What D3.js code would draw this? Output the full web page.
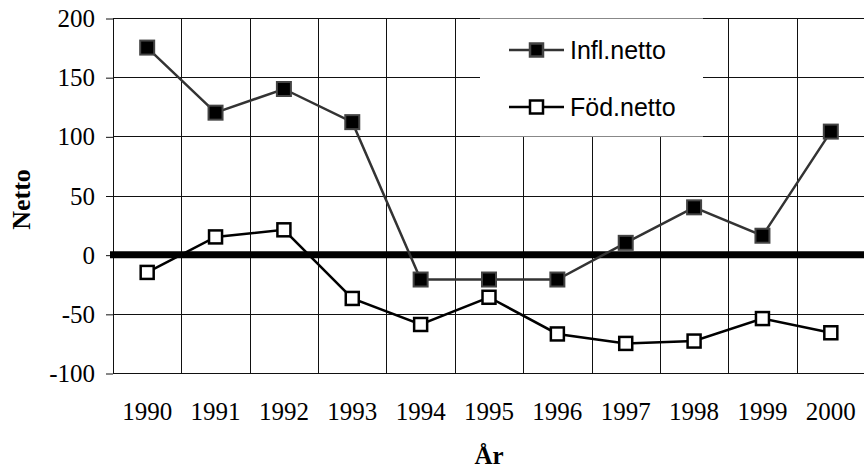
<!DOCTYPE html>
<html>
<head>
<meta charset="utf-8">
<script src="https://cdn.jsdelivr.net/npm/d3@7"></script>
<style>
    body { margin: 0; background: #fff; }
</style>
</head>
<body>
<div id="chart"></div>
<script>
var years = ["1990", "1991", "1992", "1993", "1994", "1995", "1996", "1997", "1998", "1999", "2000"];
var inflNetto = [175, 120, 140, 112, -21, -21, -21, 10, 40, 16, 104];
var fodNetto = [-15, 15, 21, -37, -59, -36, -67, -75, -73, -54, -66];
var yTicks = [-100, -50, 0, 50, 100, 150, 200];

var margin = {top: 18, right: -1, bottom: 95, left: 113},
    width = 864 - margin.left - margin.right,
    height = 468 - margin.top - margin.bottom;

var svg = d3.select("#chart")
    .append("svg")
    .attr("width", 864)
    .attr("height", 468)
    .append("g")
    .attr("transform", "translate(" + margin.left + "," + margin.top + ")");

var x = d3.scaleBand()
    .domain(years)
    .range([0, width])
    .padding(0);

var y = d3.scaleLinear()
    .domain([-100, 200])
    .range([height, 0]);

function cx(i) { return x(years[i]) + x.bandwidth() / 2; }

// horizontal grid
svg.selectAll("hgrid")
    .data(yTicks)
    .enter()
    .append("line")
    .attr("x1", 0)
    .attr("x2", width)
    .attr("y1", function(d) { return Math.round(y(d)) + 0.5; })
    .attr("y2", function(d) { return Math.round(y(d)) + 0.5; })
    .style("stroke", "#111")
    .style("stroke-width", 1);

// vertical grid at category edges
svg.selectAll("vgrid")
    .data(years.concat(["end"]))
    .enter()
    .append("line")
    .attr("x1", function(d, i) { return Math.round(i * x.bandwidth()) + 0.5; })
    .attr("x2", function(d, i) { return Math.round(i * x.bandwidth()) + 0.5; })
    .attr("y1", 0)
    .attr("y2", height)
    .style("stroke", "#111")
    .style("stroke-width", 1);

// y axis
var yAxis = svg.append("g")
    .call(d3.axisLeft(y).tickValues(yTicks).tickSize(7).tickPadding(11).tickFormat(function(d) { return String(d); }));
yAxis.select(".domain").remove();
yAxis.selectAll("line").style("stroke", "#111").attr("transform", "translate(0,0.5)");
yAxis.selectAll("text")
    .style("font-family", "'Liberation Serif', 'Times New Roman', serif")
    .style("font-size", "25px")
    .attr("dy", "0.34em")
    .style("fill", "#000");

// x labels
svg.selectAll("xlab")
    .data(years)
    .enter()
    .append("text")
    .attr("x", function(d) { return x(d) + x.bandwidth() / 2; })
    .attr("y", height + 47)
    .attr("text-anchor", "middle")
    .style("font-family", "'Liberation Serif', 'Times New Roman', serif")
    .style("font-size", "25px")
    .text(function(d) { return d; });

// legend background covers grid
svg.append("rect")
    .attr("x", 480 - margin.left)
    .attr("y", 0.5)
    .attr("width", 223)
    .attr("height", 118)
    .style("fill", "#fff");

// zero line
svg.append("line")
    .attr("x1", -3)
    .attr("x2", width)
    .attr("y1", y(0))
    .attr("y2", y(0))
    .style("stroke", "#000")
    .style("stroke-width", 7);

var line = d3.line()
    .x(function(d, i) { return cx(i); })
    .y(function(d) { return y(d); });

// Föd.netto
svg.append("path")
    .datum(fodNetto)
    .attr("d", line)
    .style("fill", "none")
    .style("stroke", "#000")
    .style("stroke-width", 2.5);

svg.selectAll("fodpt")
    .data(fodNetto)
    .enter()
    .append("rect")
    .attr("x", function(d, i) { return cx(i) - 6.5; })
    .attr("y", function(d) { return y(d) - 6.5; })
    .attr("width", 13)
    .attr("height", 13)
    .style("fill", "#fff")
    .style("stroke", "#000")
    .style("stroke-width", 2.5);

// Infl.netto
svg.append("path")
    .datum(inflNetto)
    .attr("d", line)
    .style("fill", "none")
    .style("stroke", "#333")
    .style("stroke-width", 2.5);

svg.selectAll("inflpt")
    .data(inflNetto)
    .enter()
    .append("rect")
    .attr("x", function(d, i) { return cx(i) - 7; })
    .attr("y", function(d) { return y(d) - 7; })
    .attr("width", 14)
    .attr("height", 14)
    .style("fill", "#000")
    .style("stroke", "#444")
    .style("stroke-width", 2);

// legend
var legend = [
    {name: "Infl.netto", fill: "#000", stroke: "#444", lineColor: "#333"},
    {name: "Föd.netto", fill: "#fff", stroke: "#000", lineColor: "#000"}
];

var lg = svg.selectAll("legend")
    .data(legend)
    .enter()
    .append("g")
    .attr("transform", function(d, i) { return "translate(" + (509 - margin.left) + "," + (50 + i * 57 - margin.top) + ")"; });

lg.append("line")
    .attr("x1", 0).attr("x2", 55)
    .attr("y1", 0).attr("y2", 0)
    .style("stroke", function(d) { return d.lineColor; })
    .style("stroke-width", 2.5);

lg.append("rect")
    .attr("x", 21).attr("y", -6.5)
    .attr("width", 13).attr("height", 13)
    .style("fill", function(d) { return d.fill; })
    .style("stroke", function(d) { return d.stroke; })
    .style("stroke-width", 2.5);

lg.append("text")
    .attr("x", 61)
    .attr("y", 0)
    .attr("dy", "0.36em")
    .style("font-family", "'Liberation Sans', Arial, sans-serif")
    .style("font-size", "25px")
    .text(function(d) { return d.name; });

// axis titles
svg.append("text")
    .attr("transform", "translate(" + (30 - margin.left) + "," + (height / 2 + 4) + ")rotate(-90)")
    .attr("text-anchor", "middle")
    .style("font-family", "'Liberation Serif', 'Times New Roman', serif")
    .style("font-size", "26px")
    .style("font-weight", "bold")
    .text("Netto");

svg.append("text")
    .attr("x", width / 2)
    .attr("y", 464 - margin.top)
    .attr("text-anchor", "middle")
    .style("font-family", "'Liberation Serif', 'Times New Roman', serif")
    .style("font-size", "25px")
    .style("font-weight", "bold")
    .text("År");
</script>
</body>
</html>
